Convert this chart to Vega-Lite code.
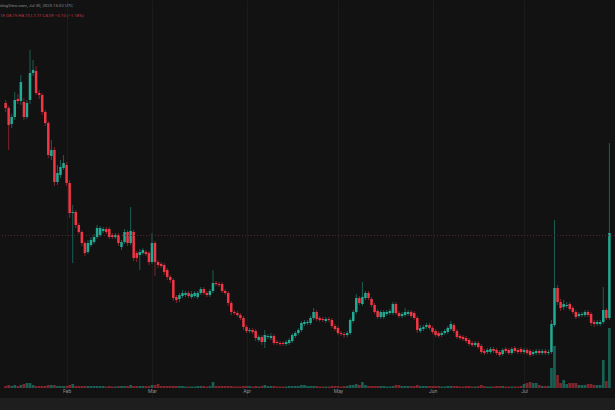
{
"$schema":"https://vega.github.io/schema/vega-lite/v6.json",
"width":615,"height":398,"autosize":{"type":"none"},"padding":{"left":0,"top":0,"right":0,"bottom":12},
"background":"#1e1e1e",
"title":{"text":"dingView.com, Jul 30, 2025 15:02 UTC","subtitle":"1E  O8.19 H8.73 L7.77 C8.09 −0.10 (−1.18%)","anchor":"start","frame":"group","orient":"top","offset":-18,"fontSize":4.3,"fontWeight":"normal","color":"#8a8a8a","subtitleFontSize":4.3,"subtitleColor":"#c0363f","subtitlePadding":5,"font":"Roboto","subtitleFont":"Roboto"},
"config":{"view":{"fill":"#121212","stroke":null},
 "axisX":{"labelExpr":"utcFormat(datum.value, '%b')","title":null,"domain":false,"ticks":false,"grid":true,"gridColor":"#1b1b1b","gridWidth":1,"labelColor":"#8f8f8f","labelFontSize":5,"labelFont":"Roboto","labelPadding":-8,"labelBaseline":"middle"}},
"datasets":{"candles":[
{"d":"2025-01-12","o":29.7,"h":30.0,"l":28.8,"c":29.2,"v":2},
{"d":"2025-01-13","o":29.2,"h":29.4,"l":25.0,"c":27.5,"v":3},
{"d":"2025-01-14","o":27.6,"h":28.6,"l":27.2,"c":28.3,"v":2},
{"d":"2025-01-15","o":28.3,"h":30.8,"l":28.0,"c":30.0,"v":3},
{"d":"2025-01-16","o":30.1,"h":30.6,"l":29.6,"c":29.9,"v":2},
{"d":"2025-01-17","o":29.9,"h":32.5,"l":29.5,"c":31.8,"v":3},
{"d":"2025-01-18","o":29.8,"h":30.2,"l":28.0,"c":28.3,"v":4},
{"d":"2025-01-19","o":28.3,"h":30.0,"l":28.1,"c":29.7,"v":5},
{"d":"2025-01-20","o":30.0,"h":35.0,"l":29.6,"c":32.7,"v":5},
{"d":"2025-01-21","o":32.7,"h":34.0,"l":32.4,"c":33.0,"v":3},
{"d":"2025-01-22","o":32.9,"h":33.4,"l":30.5,"c":30.7,"v":2},
{"d":"2025-01-23","o":30.7,"h":31.0,"l":30.1,"c":30.5,"v":2},
{"d":"2025-01-24","o":30.5,"h":30.7,"l":28.5,"c":28.8,"v":2},
{"d":"2025-01-25","o":28.8,"h":29.0,"l":27.4,"c":27.7,"v":2},
{"d":"2025-01-26","o":27.7,"h":27.9,"l":24.2,"c":24.5,"v":3},
{"d":"2025-01-27","o":24.4,"h":26.0,"l":24.0,"c":25.0,"v":3},
{"d":"2025-01-28","o":25.0,"h":25.3,"l":21.4,"c":21.8,"v":3},
{"d":"2025-01-29","o":21.8,"h":23.5,"l":21.5,"c":22.7,"v":2},
{"d":"2025-01-30","o":22.5,"h":24.0,"l":22.2,"c":23.3,"v":2},
{"d":"2025-01-31","o":23.2,"h":24.5,"l":23.0,"c":23.7,"v":2},
{"d":"2025-02-01","o":23.5,"h":23.8,"l":21.4,"c":21.7,"v":2},
{"d":"2025-02-02","o":21.7,"h":22.0,"l":18.2,"c":18.7,"v":3},
{"d":"2025-02-03","o":18.7,"h":19.5,"l":13.7,"c":18.8,"v":4},
{"d":"2025-02-04","o":18.8,"h":19.0,"l":17.2,"c":17.5,"v":2},
{"d":"2025-02-05","o":17.5,"h":17.7,"l":16.6,"c":16.8,"v":2},
{"d":"2025-02-06","o":16.8,"h":17.0,"l":15.4,"c":15.7,"v":2},
{"d":"2025-02-07","o":15.7,"h":15.9,"l":14.4,"c":14.7,"v":2},
{"d":"2025-02-08","o":14.8,"h":16.0,"l":14.6,"c":15.7,"v":2},
{"d":"2025-02-09","o":15.5,"h":16.3,"l":15.3,"c":16.0,"v":2},
{"d":"2025-02-10","o":15.8,"h":16.6,"l":15.6,"c":16.3,"v":2},
{"d":"2025-02-11","o":16.3,"h":17.5,"l":16.1,"c":17.2,"v":2},
{"d":"2025-02-12","o":16.5,"h":17.4,"l":16.3,"c":17.2,"v":2},
{"d":"2025-02-13","o":16.9,"h":17.3,"l":16.7,"c":17.1,"v":2},
{"d":"2025-02-14","o":17.1,"h":17.3,"l":16.6,"c":16.8,"v":1.5},
{"d":"2025-02-15","o":17.1,"h":17.3,"l":16.1,"c":16.3,"v":2},
{"d":"2025-02-16","o":16.5,"h":16.7,"l":16.1,"c":16.3,"v":1.5},
{"d":"2025-02-17","o":16.3,"h":16.7,"l":16.1,"c":16.5,"v":1.5},
{"d":"2025-02-18","o":16.5,"h":16.7,"l":15.4,"c":15.7,"v":2},
{"d":"2025-02-19","o":15.3,"h":16.0,"l":15.0,"c":15.8,"v":2},
{"d":"2025-02-20","o":15.8,"h":17.1,"l":15.6,"c":16.8,"v":2},
{"d":"2025-02-21","o":16.8,"h":17.0,"l":15.4,"c":15.7,"v":2},
{"d":"2025-02-22","o":15.7,"h":19.3,"l":15.5,"c":16.9,"v":3},
{"d":"2025-02-23","o":16.8,"h":17.0,"l":13.9,"c":14.2,"v":2},
{"d":"2025-02-24","o":14.7,"h":14.9,"l":13.8,"c":14.2,"v":2},
{"d":"2025-02-25","o":14.5,"h":15.1,"l":13.0,"c":14.8,"v":2},
{"d":"2025-02-26","o":14.7,"h":15.2,"l":14.5,"c":15.0,"v":2},
{"d":"2025-02-27","o":14.8,"h":15.0,"l":14.4,"c":14.6,"v":2},
{"d":"2025-02-28","o":14.7,"h":14.9,"l":13.5,"c":13.8,"v":2},
{"d":"2025-03-01","o":13.8,"h":16.7,"l":13.6,"c":15.7,"v":3},
{"d":"2025-03-02","o":15.7,"h":15.9,"l":12.4,"c":13.8,"v":3},
{"d":"2025-03-03","o":13.8,"h":14.0,"l":13.2,"c":13.5,"v":4},
{"d":"2025-03-04","o":13.6,"h":13.8,"l":13.2,"c":13.4,"v":2},
{"d":"2025-03-05","o":13.5,"h":13.7,"l":12.5,"c":12.8,"v":2},
{"d":"2025-03-06","o":13.0,"h":13.2,"l":12.0,"c":12.3,"v":2},
{"d":"2025-03-07","o":12.3,"h":12.5,"l":11.7,"c":12.0,"v":2},
{"d":"2025-03-08","o":12.0,"h":12.2,"l":9.9,"c":10.2,"v":2},
{"d":"2025-03-09","o":10.3,"h":10.5,"l":9.7,"c":10.0,"v":2},
{"d":"2025-03-10","o":10.1,"h":10.7,"l":9.8,"c":10.5,"v":2},
{"d":"2025-03-11","o":10.4,"h":11.0,"l":10.2,"c":10.7,"v":2},
{"d":"2025-03-12","o":10.5,"h":10.9,"l":10.3,"c":10.7,"v":1.5},
{"d":"2025-03-13","o":10.7,"h":10.9,"l":10.2,"c":10.4,"v":1.5},
{"d":"2025-03-14","o":10.3,"h":10.9,"l":10.1,"c":10.6,"v":1.5},
{"d":"2025-03-15","o":10.4,"h":10.9,"l":10.2,"c":10.7,"v":1.5},
{"d":"2025-03-16","o":10.3,"h":10.9,"l":10.1,"c":10.7,"v":2},
{"d":"2025-03-17","o":10.7,"h":11.3,"l":10.5,"c":11.1,"v":2},
{"d":"2025-03-18","o":11.1,"h":11.3,"l":10.5,"c":10.7,"v":2},
{"d":"2025-03-19","o":10.7,"h":10.9,"l":10.3,"c":10.5,"v":1.5},
{"d":"2025-03-20","o":10.5,"h":11.1,"l":10.3,"c":10.9,"v":2},
{"d":"2025-03-21","o":10.9,"h":13.0,"l":10.7,"c":11.7,"v":6},
{"d":"2025-03-22","o":11.7,"h":11.9,"l":11.4,"c":11.6,"v":2},
{"d":"2025-03-23","o":11.6,"h":11.8,"l":11.3,"c":11.5,"v":2},
{"d":"2025-03-24","o":11.6,"h":11.8,"l":10.7,"c":10.9,"v":2},
{"d":"2025-03-25","o":10.9,"h":11.1,"l":10.5,"c":10.7,"v":2},
{"d":"2025-03-26","o":10.7,"h":10.9,"l":9.4,"c":9.7,"v":2},
{"d":"2025-03-27","o":9.7,"h":9.9,"l":8.5,"c":8.8,"v":2},
{"d":"2025-03-28","o":8.8,"h":9.0,"l":8.5,"c":8.7,"v":1.5},
{"d":"2025-03-29","o":8.7,"h":8.9,"l":8.3,"c":8.5,"v":1.5},
{"d":"2025-03-30","o":8.5,"h":8.7,"l":8.0,"c":8.2,"v":1.5},
{"d":"2025-03-31","o":8.2,"h":8.4,"l":7.0,"c":7.3,"v":2},
{"d":"2025-04-01","o":7.3,"h":7.5,"l":6.7,"c":6.9,"v":2},
{"d":"2025-04-02","o":6.9,"h":7.2,"l":6.7,"c":7.0,"v":2},
{"d":"2025-04-03","o":7.0,"h":7.2,"l":6.6,"c":6.8,"v":1.5},
{"d":"2025-04-04","o":6.9,"h":7.1,"l":5.9,"c":6.2,"v":2},
{"d":"2025-04-05","o":6.0,"h":6.5,"l":5.8,"c":6.3,"v":1.5},
{"d":"2025-04-06","o":6.3,"h":6.5,"l":5.5,"c":5.8,"v":2},
{"d":"2025-04-07","o":5.8,"h":7.0,"l":5.2,"c":6.5,"v":3},
{"d":"2025-04-08","o":6.3,"h":6.6,"l":6.1,"c":6.4,"v":2},
{"d":"2025-04-09","o":6.2,"h":6.7,"l":6.0,"c":6.4,"v":2},
{"d":"2025-04-10","o":6.4,"h":6.6,"l":5.5,"c":5.7,"v":2},
{"d":"2025-04-11","o":5.8,"h":6.0,"l":5.5,"c":5.7,"v":1.5},
{"d":"2025-04-12","o":5.7,"h":5.9,"l":5.4,"c":5.6,"v":1.5},
{"d":"2025-04-13","o":5.7,"h":5.9,"l":5.4,"c":5.6,"v":1.5},
{"d":"2025-04-14","o":5.6,"h":6.0,"l":5.4,"c":5.8,"v":1.5},
{"d":"2025-04-15","o":5.7,"h":6.2,"l":5.5,"c":6.0,"v":2},
{"d":"2025-04-16","o":5.9,"h":6.7,"l":5.7,"c":6.5,"v":2},
{"d":"2025-04-17","o":6.4,"h":6.9,"l":6.2,"c":6.7,"v":2},
{"d":"2025-04-18","o":6.7,"h":7.2,"l":6.5,"c":7.0,"v":2},
{"d":"2025-04-19","o":7.0,"h":7.9,"l":6.8,"c":7.7,"v":3},
{"d":"2025-04-20","o":7.6,"h":8.0,"l":7.4,"c":7.8,"v":3},
{"d":"2025-04-21","o":7.7,"h":8.0,"l":7.5,"c":7.8,"v":2},
{"d":"2025-04-22","o":7.7,"h":8.4,"l":7.5,"c":8.2,"v":2},
{"d":"2025-04-23","o":8.2,"h":9.2,"l":8.0,"c":8.8,"v":2},
{"d":"2025-04-24","o":8.8,"h":9.0,"l":7.9,"c":8.1,"v":2},
{"d":"2025-04-25","o":8.2,"h":8.4,"l":7.8,"c":8.0,"v":1.5},
{"d":"2025-04-26","o":8.1,"h":8.3,"l":7.8,"c":8.0,"v":1.5},
{"d":"2025-04-27","o":7.9,"h":8.3,"l":7.7,"c":8.1,"v":1.5},
{"d":"2025-04-28","o":8.1,"h":8.3,"l":7.8,"c":8.0,"v":1.5},
{"d":"2025-04-29","o":8.0,"h":8.2,"l":7.2,"c":7.4,"v":2},
{"d":"2025-04-30","o":7.4,"h":7.6,"l":6.9,"c":7.1,"v":2},
{"d":"2025-05-01","o":7.2,"h":7.4,"l":6.5,"c":6.7,"v":2},
{"d":"2025-05-02","o":6.7,"h":6.9,"l":6.4,"c":6.6,"v":1.5},
{"d":"2025-05-03","o":6.6,"h":6.8,"l":6.2,"c":6.5,"v":2},
{"d":"2025-05-04","o":6.5,"h":6.9,"l":6.3,"c":6.7,"v":2},
{"d":"2025-05-05","o":6.7,"h":8.2,"l":6.5,"c":8.0,"v":3},
{"d":"2025-05-06","o":7.9,"h":9.0,"l":7.7,"c":8.8,"v":3},
{"d":"2025-05-07","o":8.8,"h":10.6,"l":8.6,"c":10.2,"v":4},
{"d":"2025-05-08","o":10.2,"h":10.4,"l":9.5,"c":9.7,"v":3},
{"d":"2025-05-09","o":9.6,"h":11.8,"l":9.4,"c":10.3,"v":6},
{"d":"2025-05-10","o":10.2,"h":10.9,"l":10.0,"c":10.7,"v":3},
{"d":"2025-05-11","o":10.7,"h":10.9,"l":10.0,"c":10.2,"v":2},
{"d":"2025-05-12","o":10.1,"h":10.3,"l":9.3,"c":9.5,"v":2},
{"d":"2025-05-13","o":9.5,"h":9.7,"l":8.6,"c":8.8,"v":2},
{"d":"2025-05-14","o":8.9,"h":9.1,"l":8.1,"c":8.3,"v":2},
{"d":"2025-05-15","o":8.3,"h":9.0,"l":8.1,"c":8.8,"v":2},
{"d":"2025-05-16","o":8.3,"h":9.0,"l":8.1,"c":8.8,"v":2},
{"d":"2025-05-17","o":8.6,"h":9.0,"l":8.4,"c":8.8,"v":1.5},
{"d":"2025-05-18","o":8.7,"h":9.1,"l":8.5,"c":8.9,"v":1.5},
{"d":"2025-05-19","o":8.7,"h":9.8,"l":8.5,"c":9.6,"v":2},
{"d":"2025-05-20","o":9.6,"h":9.8,"l":8.5,"c":8.7,"v":3},
{"d":"2025-05-21","o":8.7,"h":8.9,"l":8.2,"c":8.4,"v":3},
{"d":"2025-05-22","o":8.4,"h":8.8,"l":8.2,"c":8.6,"v":2},
{"d":"2025-05-23","o":8.5,"h":9.2,"l":8.3,"c":8.8,"v":2},
{"d":"2025-05-24","o":8.6,"h":9.0,"l":8.4,"c":8.8,"v":2},
{"d":"2025-05-25","o":8.8,"h":9.0,"l":8.2,"c":8.4,"v":2},
{"d":"2025-05-26","o":8.7,"h":8.9,"l":8.0,"c":8.2,"v":2},
{"d":"2025-05-27","o":8.2,"h":8.4,"l":6.7,"c":7.0,"v":3},
{"d":"2025-05-28","o":6.9,"h":7.5,"l":6.7,"c":7.2,"v":2},
{"d":"2025-05-29","o":7.1,"h":7.5,"l":6.9,"c":7.3,"v":2},
{"d":"2025-05-30","o":7.3,"h":7.7,"l":7.1,"c":7.5,"v":2},
{"d":"2025-05-31","o":7.5,"h":7.7,"l":7.0,"c":7.2,"v":2},
{"d":"2025-06-01","o":7.2,"h":7.4,"l":6.6,"c":6.8,"v":2},
{"d":"2025-06-02","o":6.9,"h":7.1,"l":6.3,"c":6.5,"v":2},
{"d":"2025-06-03","o":6.7,"h":6.9,"l":6.2,"c":6.4,"v":2},
{"d":"2025-06-04","o":6.5,"h":6.9,"l":6.3,"c":6.7,"v":1.5},
{"d":"2025-06-05","o":6.7,"h":7.1,"l":6.5,"c":6.9,"v":1.5},
{"d":"2025-06-06","o":6.8,"h":7.4,"l":6.6,"c":7.2,"v":2},
{"d":"2025-06-07","o":7.1,"h":7.9,"l":6.9,"c":7.6,"v":2},
{"d":"2025-06-08","o":7.5,"h":7.7,"l":6.7,"c":6.9,"v":2},
{"d":"2025-06-09","o":6.9,"h":7.1,"l":6.1,"c":6.3,"v":2},
{"d":"2025-06-10","o":6.4,"h":6.6,"l":6.0,"c":6.2,"v":1.5},
{"d":"2025-06-11","o":6.3,"h":6.5,"l":5.9,"c":6.1,"v":1.5},
{"d":"2025-06-12","o":6.2,"h":6.4,"l":5.7,"c":5.9,"v":2},
{"d":"2025-06-13","o":6.0,"h":6.2,"l":5.4,"c":5.6,"v":2},
{"d":"2025-06-14","o":5.7,"h":5.9,"l":5.3,"c":5.5,"v":1.5},
{"d":"2025-06-15","o":5.5,"h":5.9,"l":5.3,"c":5.7,"v":1.5},
{"d":"2025-06-16","o":5.7,"h":5.9,"l":5.1,"c":5.3,"v":2},
{"d":"2025-06-17","o":5.4,"h":5.6,"l":4.6,"c":4.8,"v":3},
{"d":"2025-06-18","o":4.9,"h":5.1,"l":4.5,"c":4.7,"v":2},
{"d":"2025-06-19","o":4.8,"h":5.2,"l":4.6,"c":5.0,"v":1.5},
{"d":"2025-06-20","o":4.8,"h":5.3,"l":4.6,"c":5.1,"v":1.5},
{"d":"2025-06-21","o":5.1,"h":5.3,"l":4.7,"c":4.9,"v":1.5},
{"d":"2025-06-22","o":5.0,"h":5.2,"l":4.5,"c":4.7,"v":2},
{"d":"2025-06-23","o":4.8,"h":5.0,"l":4.3,"c":4.5,"v":2},
{"d":"2025-06-24","o":4.6,"h":5.2,"l":4.4,"c":5.0,"v":2},
{"d":"2025-06-25","o":5.1,"h":5.3,"l":4.7,"c":4.9,"v":1.5},
{"d":"2025-06-26","o":5.0,"h":5.2,"l":4.5,"c":4.7,"v":1.5},
{"d":"2025-06-27","o":4.7,"h":5.3,"l":4.5,"c":5.1,"v":1.5},
{"d":"2025-06-28","o":5.2,"h":5.4,"l":4.7,"c":4.9,"v":1.5},
{"d":"2025-06-29","o":5.0,"h":5.2,"l":4.6,"c":4.8,"v":1.5},
{"d":"2025-06-30","o":5.1,"h":5.3,"l":4.6,"c":4.8,"v":2},
{"d":"2025-07-01","o":4.8,"h":5.2,"l":4.6,"c":5.0,"v":4},
{"d":"2025-07-02","o":5.0,"h":5.2,"l":4.5,"c":4.7,"v":5},
{"d":"2025-07-03","o":4.9,"h":5.1,"l":4.3,"c":4.5,"v":6},
{"d":"2025-07-04","o":4.6,"h":5.0,"l":4.4,"c":4.8,"v":5},
{"d":"2025-07-05","o":4.7,"h":5.1,"l":4.5,"c":4.9,"v":5},
{"d":"2025-07-06","o":4.9,"h":5.1,"l":4.5,"c":4.7,"v":3},
{"d":"2025-07-07","o":4.7,"h":5.1,"l":4.5,"c":4.9,"v":2},
{"d":"2025-07-08","o":4.9,"h":5.1,"l":4.5,"c":4.7,"v":2},
{"d":"2025-07-09","o":4.7,"h":5.0,"l":4.5,"c":4.8,"v":2},
{"d":"2025-07-10","o":4.8,"h":8.0,"l":4.6,"c":7.6,"v":20},
{"d":"2025-07-11","o":7.5,"h":18.0,"l":7.3,"c":11.2,"v":42},
{"d":"2025-07-12","o":11.2,"h":11.5,"l":9.5,"c":9.8,"v":13},
{"d":"2025-07-13","o":9.8,"h":10.1,"l":8.9,"c":9.2,"v":5},
{"d":"2025-07-14","o":9.3,"h":10.0,"l":9.0,"c":9.6,"v":8},
{"d":"2025-07-15","o":9.4,"h":9.8,"l":9.2,"c":9.5,"v":4},
{"d":"2025-07-16","o":9.6,"h":9.8,"l":8.9,"c":9.1,"v":5},
{"d":"2025-07-17","o":9.2,"h":9.4,"l":8.6,"c":8.8,"v":5},
{"d":"2025-07-18","o":8.8,"h":9.0,"l":8.1,"c":8.3,"v":5},
{"d":"2025-07-19","o":8.4,"h":8.8,"l":8.2,"c":8.6,"v":3},
{"d":"2025-07-20","o":8.5,"h":8.8,"l":8.3,"c":8.6,"v":3},
{"d":"2025-07-21","o":8.5,"h":9.0,"l":8.3,"c":8.8,"v":3},
{"d":"2025-07-22","o":8.8,"h":9.0,"l":8.3,"c":8.5,"v":4},
{"d":"2025-07-23","o":8.6,"h":8.8,"l":7.4,"c":7.7,"v":4},
{"d":"2025-07-24","o":7.8,"h":8.0,"l":7.3,"c":7.6,"v":3},
{"d":"2025-07-25","o":7.6,"h":8.0,"l":7.4,"c":7.8,"v":3},
{"d":"2025-07-26","o":7.6,"h":8.0,"l":7.4,"c":7.8,"v":3},
{"d":"2025-07-27","o":7.8,"h":11.3,"l":7.6,"c":9.0,"v":28},
{"d":"2025-07-28","o":9.0,"h":9.2,"l":8.0,"c":8.2,"v":7},
{"d":"2025-07-29","o":8.2,"h":25.7,"l":8.0,"c":16.7,"v":60}
],"priceline":[{"p":16.45}]},
"layer":[
{"data":{"name":"candles"},"mark":{"type":"rule","strokeWidth":1,"opacity":0.5},
 "encoding":{
  "x":{"field":"d","type":"temporal","scale":{"type":"utc","domain":[1736622720000,1753764480000]},
   "axis":{"values":[{"year":2025,"month":2,"date":1,"utc":true},{"year":2025,"month":3,"date":1,"utc":true},{"year":2025,"month":4,"date":1,"utc":true},{"year":2025,"month":5,"date":1,"utc":true},{"year":2025,"month":6,"date":1,"utc":true},{"year":2025,"month":7,"date":1,"utc":true}]}},
  "y":{"field":"l","type":"quantitative","scale":{"domain":[0.2,40]},"axis":null},
  "y2":{"field":"h"},
  "color":{"condition":{"test":"datum.c >= datum.o","value":"#22ab94"},"value":"#f23645"}}},
{"data":{"name":"candles"},"mark":{"type":"bar","size":2.5},
 "encoding":{
  "x":{"field":"d","type":"temporal",
   "axis":{"values":[{"year":2025,"month":2,"date":1,"utc":true},{"year":2025,"month":3,"date":1,"utc":true},{"year":2025,"month":4,"date":1,"utc":true},{"year":2025,"month":5,"date":1,"utc":true},{"year":2025,"month":6,"date":1,"utc":true},{"year":2025,"month":7,"date":1,"utc":true}]}},
  "y":{"field":"o","type":"quantitative","scale":{"domain":[0.2,40]},"axis":null},
  "y2":{"field":"c"},
  "color":{"condition":{"test":"datum.c >= datum.o","value":"#22ab94"},"value":"#f23645"}}},
{"data":{"name":"candles"},"mark":{"type":"bar","size":2.7,"opacity":0.5},
 "encoding":{
  "x":{"field":"d","type":"temporal",
   "axis":{"values":[{"year":2025,"month":2,"date":1,"utc":true},{"year":2025,"month":3,"date":1,"utc":true},{"year":2025,"month":4,"date":1,"utc":true},{"year":2025,"month":5,"date":1,"utc":true},{"year":2025,"month":6,"date":1,"utc":true},{"year":2025,"month":7,"date":1,"utc":true}]}},
  "y":{"field":"v","type":"quantitative","scale":{"domain":[-10,388]},"axis":null},
  "color":{"condition":{"test":"datum.c >= datum.o","value":"#22ab94"},"value":"#f23645"}}},
{"data":{"name":"priceline"},"mark":{"type":"rule","strokeDash":[1,2],"color":"#5c2328","strokeWidth":1},
 "encoding":{"y":{"field":"p","type":"quantitative","scale":{"domain":[0.2,40]},"axis":null}}}
],
"resolve":{"scale":{"y":"independent"}}
}
